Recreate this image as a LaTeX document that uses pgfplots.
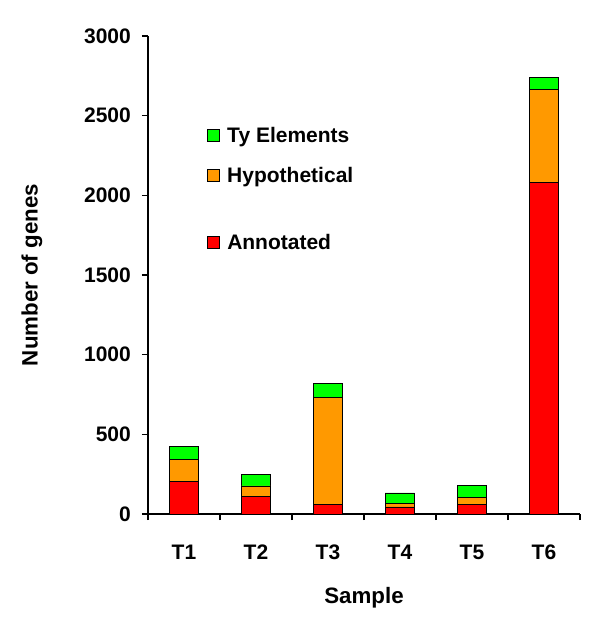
\documentclass[border=0pt]{standalone}
\usepackage{fontspec}
\setmainfont{Liberation Sans}
\usepackage{pgfplots}
\pgfplotsset{compat=1.18}
\definecolor{cgreen}{RGB}{0,255,0}
\definecolor{corange}{RGB}{255,153,0}
\definecolor{cred}{RGB}{255,0,0}
\pgfplotsset{
  common/.style={
    at={(0pt,0pt)}, anchor=south west,
    scale only axis, width=432pt, height=478pt,
    xmin=-0.5, xmax=5.5, ymin=0, ymax=3000,
    legend cell align=left,
    legend style={draw=none, fill=none, anchor=north west,
      font=\fontsize{21}{25}\selectfont\bfseries, row sep=23.5pt, inner sep=0pt,
      nodes={inner sep=0pt}},
  },
  sqlegend/.style={
    legend image code/.code={\draw[##1, draw=black, line width=0.8pt] (0pt,-6pt) rectangle (12pt,6pt);},
  }
}
\begin{document}
\begin{tikzpicture}
\useasboundingbox (-148pt,-108pt) rectangle (452pt,514pt);
\begin{axis}[
  common,
  ybar stacked, bar width=29.5pt,
  sqlegend,
  axis x line*=bottom, axis y line*=left,
  axis line style={line width=1.5pt},
  xtick={0,1,2,3,4,5},
  xticklabels={T1,T2,T3,T4,T5,T6},
  minor xtick={-0.5,0.5,1.5,2.5,3.5,4.5,5.5},
  major x tick style={draw=none},
  minor tick length=6pt,
  minor x tick style={line width=1.5pt, black},
  ytick={0,500,1000,1500,2000,2500,3000},
  major tick length=6pt,
  y tick style={line width=1.5pt, black},
  tick align=outside,
  /pgf/number format/assume math mode=true,
  /pgf/number format/1000 sep={},
  tick label style={font=\fontsize{21}{25}\selectfont\bfseries},
  xticklabel style={anchor=base, yshift=-39pt, inner sep=0pt},
  yticklabel style={anchor=east, xshift=-11pt, inner sep=0pt},
  xlabel={Sample}, ylabel={Number of genes},
  label style={font=\fontsize{22.3}{26}\selectfont\bfseries},
  xlabel style={at={(axis description cs:0.5,-0.1757)}, anchor=center},
  ylabel style={at={(axis description cs:-0.2685,0.5)}, anchor=center, rotate=0},
  legend style={at={(axis description cs:0.136,0.8095)}},
  every axis plot/.append style={draw=black, line width=0.9pt},
]
\addplot[fill=cred, draw=black, forget plot] coordinates {(0,204) (1,111) (2,61) (3,44) (4,57) (5,2080)};
\addplot[fill=corange, draw=black, forget plot] coordinates {(0,137) (1,65) (2,673) (3,20) (4,48) (5,583)};
\addplot[fill=cgreen, draw=black, forget plot] coordinates {(0,80) (1,75) (2,86) (3,68) (4,77) (5,78)};
\addlegendimage{fill=cgreen}
\addlegendentry{\hspace{7.5pt}Ty Elements}
\addlegendimage{fill=corange}
\addlegendentry{\hspace{7.5pt}Hypothetical}
\end{axis}
\begin{axis}[
  common, sqlegend, hide axis,
  legend style={at={(axis description cs:0.136,0.5857)}},
]
\addlegendimage{fill=cred}
\addlegendentry{\hspace{7.5pt}Annotated}
\end{axis}
\end{tikzpicture}
\end{document}
